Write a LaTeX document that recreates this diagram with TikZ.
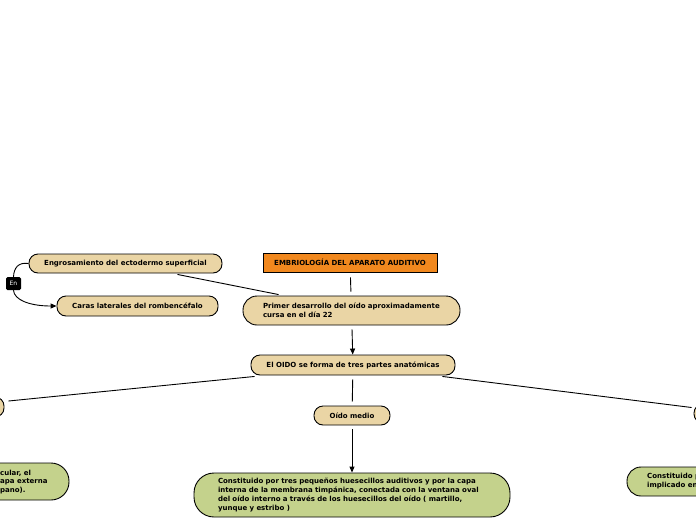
\documentclass[tikz,border=0pt]{standalone}
\usepackage{fontspec}
\setmainfont{DejaVu Sans}
\usetikzlibrary{calc,arrows.meta}
\definecolor{tan}{RGB}{234,213,165}
\definecolor{leaf}{RGB}{196,210,140}
\definecolor{orng}{RGB}{241,136,30}
\tikzset{
  txt/.style={font=\fontsize{7}{9}\selectfont\bfseries, text=black},
  pill/.style={txt, draw=black, line width=0.9pt, fill=tan, rounded corners=9pt, inner sep=0pt, align=center},
  gpill/.style={pill, fill=leaf},
  titlebox/.style={txt, draw=black, line width=0.9pt, fill=orng, inner sep=0pt},
  tagbox/.style={font=\fontsize{6}{7}\selectfont, text=white, fill=black, rounded corners=1.5pt, inner sep=0pt},
  link/.style={draw=black, line width=0.9pt},
  arr/.style={link, -{Triangle[length=6pt,width=5pt]}},
}
\begin{document}
\begin{tikzpicture}[x=1pt,y=-1pt]
\useasboundingbox (0,0) rectangle (696,520);
\clip (0,0) rectangle (696,520);
\node[titlebox, minimum width=174pt, minimum height=19pt] (title) at (350,262.5) {EMBRIOLOGÍA DEL APARATO AUDITIVO};
\node[pill, minimum width=193pt, minimum height=19pt] (engr) at (125.5,263.5) {Engrosamiento del ectodermo superficial};
\node[pill, minimum width=161pt, minimum height=20pt] (caras) at (137.5,306) {Caras laterales del rombencéfalo};
\node[tagbox, minimum width=15pt, minimum height=13pt] (en) at (13.5,283.5) {En};
\node[pill, rounded corners=14pt, minimum width=217pt, minimum height=29pt, text width=177pt, align=left] (primer) at (351.5,310.5) {Primer desarrollo del oído aproximadamente\\cursa en el día 22};
\node[pill, minimum width=204pt, minimum height=20pt] (oido) at (353,365) {El OIDO se forma de tres partes anatómicas};
\node[pill, minimum width=76pt, minimum height=19pt] (medio) at (352,415.5) {Oído medio};
\node[gpill, rounded corners=20pt, minimum width=316pt, minimum height=44pt, text width=268pt, align=left] (mgreen) at (352,495) {Constituido por tres pequeños huesecillos auditivos y por la capa\\interna de la membrana timpánica, conectada con la ventana oval\\del oído interno a través de los huesecillos del oído ( martillo,\\yunque y estribo )};
% partially visible nodes at the edges
\node[pill, minimum width=64pt, minimum height=20pt] (left) at (-28,407) {};
\node[pill, minimum width=64pt, minimum height=19pt] (right) at (726,413.5) {};
\node[gpill, rounded corners=18pt, minimum width=170pt, minimum height=37pt] (lgreen) at (-16,481.5) {};
\node[txt, anchor=west, inner sep=0pt] at (0,473) {cular, el};
\node[txt, anchor=west, inner sep=0pt] at (0,482) {apa externa};
\node[txt, anchor=west, inner sep=0pt] at (0,491) {pano).};
\node[gpill, rounded corners=14pt, minimum width=170pt, minimum height=29pt] (rgreen) at (712,481.5) {};
\node[txt, anchor=west, inner sep=0pt] at (647,477) {Constituido p};
\node[txt, anchor=west, inner sep=0pt] at (647,486) {implicado en};
% connectors
\draw[link, shorten <=5pt, shorten >=4pt] (title) -- (primer);
\draw[link] ($(engr.south)+(52,1)$) -- ($(primer.north west)+(36,-1)$);
\draw[arr, shorten <=4pt, shorten >=0pt] (primer) -- (oido);
\draw[link] ($(oido.south west)+(4,1)$) -- ($(left.east)+(4,-6)$);
\draw[link, shorten <=4pt, shorten >=4pt] (oido) -- (medio);
\draw[link] ($(oido.south east)+(-13,1)$) -- ($(right.west)+(-2,-6)$);
\draw[arr, shorten <=4pt, shorten >=0pt] (medio) -- (mgreen);
\draw[link] (engr.west) .. controls (18,262) and (14,268) .. (en.north);
\draw[arr] (en.south) .. controls (14,300) and (30,306) .. (caras.west);
\end{tikzpicture}
\end{document}
